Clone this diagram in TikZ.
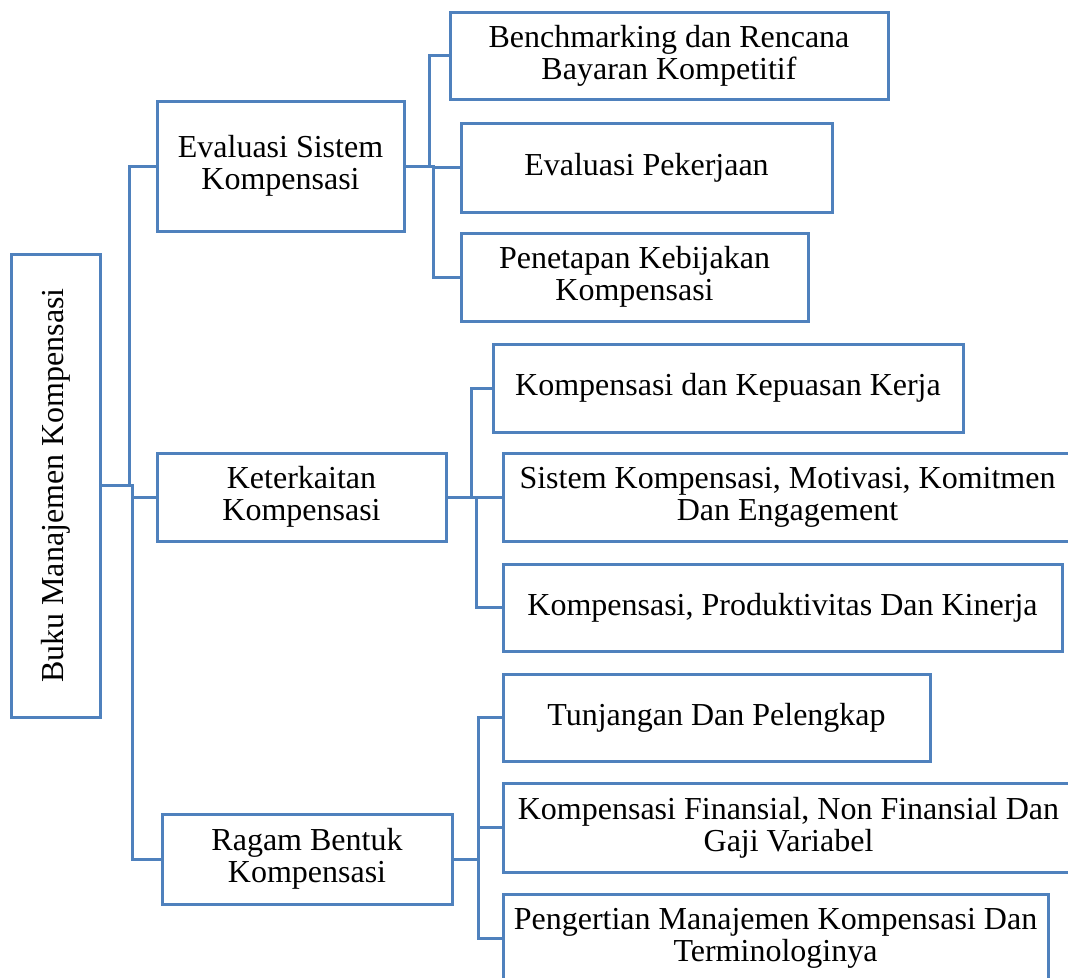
\documentclass[tikz,border=0pt]{standalone}
\usepackage{fontspec}
\setmainfont{Liberation Serif}
\definecolor{boxblue}{RGB}{79,129,189}
\tikzset{
  box/.style={draw=boxblue, line width=3pt, fill=white, inner sep=0pt,
              align=center, font=\fontsize{32}{32}\selectfont},
  link/.style={draw=boxblue, line width=3pt}
}
\begin{document}
\begin{tikzpicture}[x=1pt,y=1pt]
\useasboundingbox (0,0) rectangle (1068,-977);
\clip (0,0) rectangle (1068,-977);

% root
\node[box, rotate=90, minimum width=463pt, minimum height=89pt] (root) at (55.5,-485.5) {Buku Manajemen Kompensasi};

% first level
\node[box, minimum width=247pt, minimum height=130pt] (eval) at (280.5,-166) {Evaluasi Sistem\\Kompensasi};
\node[box, minimum width=289pt, minimum height=88pt] (ket) at (301.5,-497) {Keterkaitan\\Kompensasi};
\node[box, minimum width=290pt, minimum height=90pt] (ragam) at (307,-859) {Ragam Bentuk\\Kompensasi};

% children of Evaluasi
\node[box, minimum width=438pt, minimum height=87pt] (b1) at (669,-55.5) {Benchmarking dan Rencana\\Bayaran Kompetitif};
\node[box, minimum width=371pt, minimum height=89pt] (b2) at (646.5,-167.5) {Evaluasi Pekerjaan};
\node[box, minimum width=347pt, minimum height=88pt] (b3) at (634.5,-277) {Penetapan Kebijakan\\Kompensasi};

% children of Keterkaitan
\node[box, minimum width=470pt, minimum height=88pt] (k1) at (728,-388) {Kompensasi dan Kepuasan Kerja};
\node[box, minimum width=569pt, minimum height=88pt] (k2) at (787.5,-497) {Sistem Kompensasi, Motivasi, Komitmen\\Dan Engagement};
\node[box, minimum width=559pt, minimum height=87pt] (k3) at (782.5,-607.5) {Kompensasi, Produktivitas Dan Kinerja};

% children of Ragam
\node[box, minimum width=427pt, minimum height=87pt] (r1) at (716.5,-717.5) {Tunjangan Dan Pelengkap};
\node[box, minimum width=571pt, minimum height=89pt] (r2) at (788.5,-827.5) {Kompensasi Finansial, Non Finansial Dan\\Gaji Variabel};
\node[box, minimum width=545pt, minimum height=88pt] (r3) at (775.5,-938) {Pengertian Manajemen Kompensasi Dan\\Terminologinya};

% connectors
\draw[link] (root.south) -- ++(28,0) |- (eval.west);
\draw[link] (root.south) -- ++(31,0) |- (ket.west);
\draw[link] (root.south) -- ++(31,0) |- (ragam.west);

\draw[link] (eval.east) -- ++(24,0) |- (b1.west);
\draw[link] (eval.east) -- ++(28,0) |- (b2.west);
\draw[link] (eval.east) -- ++(28,0) |- (b3.west);

\draw[link] (ket.east) -- ++(24,0) |- (k1.west);
\draw[link] (ket.east) -- ++(29,0) |- (k2.west);
\draw[link] (ket.east) -- ++(29,0) |- (k3.west);

\draw[link] (ragam.east) -- ++(25,0) |- (r1.west);
\draw[link] (ragam.east) -- ++(25,0) |- (r2.west);
\draw[link] (ragam.east) -- ++(25,0) |- (r3.west);
\end{tikzpicture}
\end{document}
